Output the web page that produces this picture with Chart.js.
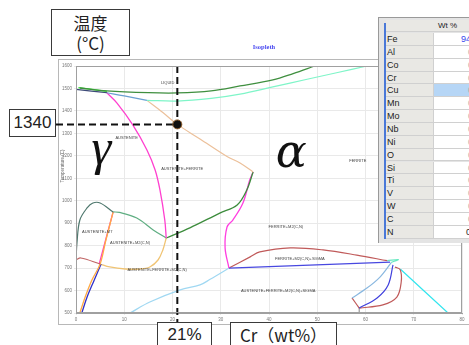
<!DOCTYPE html>
<html>
<head>
<meta charset="utf-8">
<script src="https://cdn.jsdelivr.net/npm/chart.js@4.4.1/dist/chart.umd.min.js"></script>
<style>
body{margin:0;width:469px;height:345px;overflow:hidden;background:#fff;position:relative;font-family:"Liberation Sans",Arial,sans-serif}
.frame{position:absolute;left:58px;top:59px;width:430px;height:266px;border:1px solid #b8b8b8;box-sizing:border-box}
#c{position:absolute;left:0;top:0}
.box{position:absolute;background:#fff;border:1.5px solid #3a3a3a;box-sizing:border-box;text-align:center;color:#222;font-family:"Liberation Sans","Noto Sans CJK JP",sans-serif;font-size:17px}
#tbl{position:absolute;left:378px;top:17px;width:100px;height:225px;background:#e4e4e4;border-top:1px solid #999;border-left:1px solid #999}
#tbl .bar{position:absolute;left:5px;top:5px;width:2px;height:216px;background:#4a78d8}
#tbl .cell{position:absolute;height:12px;font-size:9px;line-height:12px;color:#222;box-sizing:border-box;border-bottom:1px solid #d0d0d0;overflow:hidden;white-space:nowrap}
</style>
</head>
<body>
<div class="frame"></div>
<canvas id="c" width="469" height="345"></canvas>

<div id="tbl"><div class="bar"></div></div>

<div class="box" style="left:51px;top:9px;width:79px;height:47px;line-height:20px;padding-top:3px;font-family:'Noto Sans CJK JP',sans-serif">温度<br>(°C)</div>
<div class="box" style="left:9px;top:109px;width:47px;height:28px;line-height:25px">1340</div>
<div class="box" style="left:157px;top:322px;width:55px;height:30px;line-height:23px">21%</div>
<div class="box" style="left:230px;top:322px;width:107px;height:30px;line-height:23px;font-family:'Noto Sans CJK JP',sans-serif">Cr（wt%）</div>

<script>
// axis ranges
const crMin = 0, crMax = 80, tMin = 500, tMax = 1600;

const liquidus = [[0.8,1502],[6.4,1489],[15,1481],[21,1480],[28,1489],[34,1511],[40.8,1538],[45,1566],[49.5,1600]];
const deltaStart = [[0.5,1504],[6.4,1487]];
const deltaSolvus = [[0,1496],[6.4,1481]];
const peritectic = [[6.4,1481],[10,1467],[14.7,1447]];
const solidus = [[14.7,1447],[21,1444],[28,1456],[34,1475],[40.8,1507],[47.9,1541],[54,1570],[60.3,1600]];
const gammaLoop = [[6.4,1481],[8.5,1435],[11.8,1337],[14.7,1226],[16.4,1137],[17.4,1048],[18.4,914],[18.7,834]];
const gammaDelta = [[14.7,1447],[18,1393],[21,1340],[25.7,1275],[31.3,1197],[34,1168],[36.7,1128]];
const m2Upper = [[7.7,950],[9,948],[12.6,923],[16,870],[18.7,834]];
const m2Right = [[18.7,834],[23.6,879],[29.8,945],[33.4,981],[35.4,1048],[36.7,1128]];
const ferriteBulge = [[31.7,700],[30.9,790],[31.3,883],[32.5,914],[34.6,990],[36,1092],[36.7,1128]];
const m7Solvus = [[0,736],[0.2,812],[0.8,914],[2.3,968],[3.5,990],[5,990],[7.7,950]];
const m7Lower = [[0,736],[1,745],[5,718]];
const orangeLine = [[0.8,500],[1.9,571],[3.3,647],[5,718],[6.2,825],[7.7,950]];
const navyLine = [[1.2,500],[2.3,571],[3.7,643],[5.2,718]];
const magentaLeft = [[4.8,718],[7.7,950]];
const eutectoid = [[5,718],[7,705],[10.2,696],[13.3,696],[15.3,705],[17,736],[18,781],[18.7,834]];
const skyLine = [[11.2,500],[15.3,549],[21.6,603],[25.7,625],[27.8,650],[31.7,700]];
const sigmaLower = [[31.7,700],[65.1,727]];
const sigmaUpper = [[31.7,700],[36.1,750],[38.1,772],[44.4,790],[51.2,781],[58.2,758],[64.5,733]];
const sigmaTip = [[64.5,733],[66.8,738],[65.3,725]];
const sigmaA = [[65.3,723],[63,660],[60.3,611],[57.2,567]];
const sigmaB = [[65.7,714],[64.7,625],[62.4,567],[58.7,522]];
const sigmaC = [[66.1,705],[67.2,692],[67.4,638],[66.5,571],[63.6,536],[58.7,522]];
const sigmaD = [[57.2,567],[58.7,522]];
const cyanLine = [[67.2,696],[77.1,500]];
const grayStub = [[58.7,522],[58.7,500]];

// marked point
const markCr = 21, markT = 1340;

// region labels [text, Cr, T]
const regionLabels = [
  ['LIQUID',19,1524],
  ['AUSTENITE',10.5,1280],
  ['AUSTENITE+FERRITE',22,1141],
  ['FERRITE',58.4,1177],
  ['AUSTENITE+M7',4.4,861],
  ['AUSTENITE+M2(C,N)',11.2,812],
  ['AUSTENITE+FERRITE+M2(C,N)',16.8,692],
  ['FERRITE+M2(C,N)',43.5,883],
  ['FERRITE+M2(C,N)+SIGMA',46.4,741],
  ['AUSTENITE+FERRITE+M2(C,N)+SIGMA',41.9,598]
];

// composition table
const elements = ['Fe','Al','Co','Cr','Cu','Mn','Mo','Nb','Ni','O','Si','Ti','V','W','C','N'];
const amounts = ['94.17','0.00','0.00','0.00','0.00','0.00','0.00','0.00','0.00','0.00','0.00','0.00','0.00','0.00','0.00','0.01'];

// build the table
const tbl = document.getElementById('tbl');
function cell(left, top, w, text, style) {
  const d = document.createElement('div');
  d.className = 'cell';
  d.style.left = left + 'px'; d.style.top = top + 'px'; d.style.width = w + 'px';
  d.textContent = text;
  Object.assign(d.style, style || {});
  tbl.appendChild(d);
}
cell(7, 2, 47, '', {background:'#e9e8e4'});
cell(54, 2, 50, 'Wt %', {background:'#e9e8e4', paddingLeft:'5px', fontSize:'8px'});
elements.forEach((el, i) => {
  const top = 15 + i * 12.85;
  cell(7, top, 47, el, {background:'#e9e8e4', paddingLeft:'1px', height:'12.85px', lineHeight:'12.85px'});
  const isFe = i === 0, isN = el === 'N', isCu = el === 'Cu';
  cell(54, top, 50, amounts[i], {
    background: isCu ? '#b6d6f6' : '#fff',
    paddingLeft: isFe ? '27px' : (isN ? '32px' : '34px'),
    color: isFe ? '#3344ee' : (isN ? '#222' : '#aaa'),
    height:'12.85px', lineHeight:'12.85px', borderLeft:'1px solid #d0d0d0'
  });
});

function pts(arr) { return arr.map(([x, y]) => ({x, y})); }
function line(arr, color, w) {
  return { data: pts(arr), showLine: true, borderColor: color, borderWidth: w || 1.2,
           pointRadius: 0, tension: 0.35, fill: false };
}

const decor = {
  id: 'decor',
  afterDatasetDraw(chart, args) {
    if (args.index !== 1) return;
    const {ctx, scales: {x, y}, chartArea} = chart;
    const px = x.getPixelForValue(markCr), py = y.getPixelForValue(markT);
    ctx.save();
    ctx.strokeStyle = '#111'; ctx.lineWidth = 2; ctx.setLineDash([7, 4]);
    ctx.beginPath();
    ctx.moveTo(56, py); ctx.lineTo(px, py);
    ctx.moveTo(px, chartArea.top); ctx.lineTo(px, 322);
    ctx.stroke();
    ctx.restore();
  },
  afterDraw(chart) {
    const {ctx, scales: {x, y}, chartArea: a} = chart;
    ctx.save();
    ctx.strokeStyle = '#a0a0a0'; ctx.lineWidth = 1;
    ctx.strokeRect(a.left + 0.5, a.top + 0.5, a.right - a.left - 1, a.bottom - a.top - 1);
    ctx.fillStyle = '#444'; ctx.font = '4px "Liberation Sans"';
    ctx.textAlign = 'center'; ctx.textBaseline = 'middle';
    regionLabels.forEach(([t, cx, cy]) => ctx.fillText(t, x.getPixelForValue(cx), y.getPixelForValue(cy)));
    // title
    ctx.fillStyle = '#4b4bf0'; ctx.font = 'bold 6.5px "Liberation Serif"';
    ctx.fillText('Isopleth', 264, 47);
    // y title
    ctx.save();
    ctx.translate(63, 166); ctx.rotate(-Math.PI / 2);
    ctx.fillStyle = '#666'; ctx.font = '4.5px "Liberation Sans"';
    ctx.fillText('Temperature (C)', 0, 0);
    ctx.restore();
    // phase symbols
    ctx.fillStyle = '#111';
    ctx.textAlign = 'left'; ctx.textBaseline = 'alphabetic';
    ctx.font = 'italic 50px "Liberation Serif"';
    ctx.fillText('γ', x.getPixelForValue(3.2), y.getPixelForValue(1165));
    ctx.font = 'italic 46px "DejaVu Serif"';
    ctx.fillText('α', x.getPixelForValue(41.4), y.getPixelForValue(1150));
    ctx.restore();
  }
};

new Chart(document.getElementById('c'), {
  type: 'scatter',
  data: {
    datasets: [
      { data: [{x: markCr, y: markT}], pointRadius: 4.5, pointBackgroundColor: '#111',
        pointBorderColor: '#8a5a2a', pointBorderWidth: 1, showLine: false },
      line(liquidus, '#3f8f3f', 1.3),
      line(solidus, '#7ff5c8'),
      line(deltaStart, '#33e033'),
      line(deltaSolvus, '#3d4a78'),
      line(peritectic, '#6a9fd0'),
      line(gammaLoop, '#ff3fcf', 1.3),
      line(gammaDelta, '#ecc09a'),
      line(m2Upper, '#5fae82'),
      line(m2Right, '#3c8c3c', 1.3),
      line(ferriteBulge, '#ff3fe0', 1.3),
      line(m7Solvus, '#4f786e'),
      line(m7Lower, '#c06464'),
      line(orangeLine, '#ffaa44', 1.3),
      line(navyLine, '#3030c8', 1.3),
      line(magentaLeft, '#ff40c0', 1.3),
      line(eutectoid, '#f0c474', 1.3),
      line(skyLine, '#a0d8f2'),
      line(sigmaLower, '#4848e0'),
      line(sigmaUpper, '#c05a5a'),
      line(sigmaTip, '#66e8c0'),
      line(sigmaA, '#8ab8e0'),
      line(sigmaB, '#4040dd'),
      line(sigmaC, '#c05a5a'),
      line(sigmaD, '#c05a5a'),
      line(cyanLine, '#33e5ee'),
      line(grayStub, '#999999')
    ]
  },
  options: {
    responsive: false,
    animation: false,
    devicePixelRatio: 1,
    layout: { padding: { left: 0, top: 66, right: 7, bottom: 0 } },
    plugins: { legend: { display: false }, tooltip: { enabled: false } },
    scales: {
      x: {
        type: 'linear', min: crMin, max: crMax,
        ticks: { stepSize: 10, font: { size: 4.5 }, color: '#777', padding: 2, maxRotation: 0,
                 callback: v => String(v) },
        grid: { color: '#e9e9e9', tickLength: 2 },
        border: { color: '#a0a0a0' },
        afterFit(s) { s.height = 32; }
      },
      y: {
        min: tMin, max: tMax,
        ticks: { stepSize: 100, font: { size: 4.5 }, color: '#777', padding: 2,
                 callback: v => String(v) },
        grid: { color: '#e9e9e9', tickLength: 2 },
        border: { color: '#a0a0a0' },
        afterFit(s) { s.width = 76; }
      }
    }
  },
  plugins: [decor]
});
</script>
</body>
</html>
